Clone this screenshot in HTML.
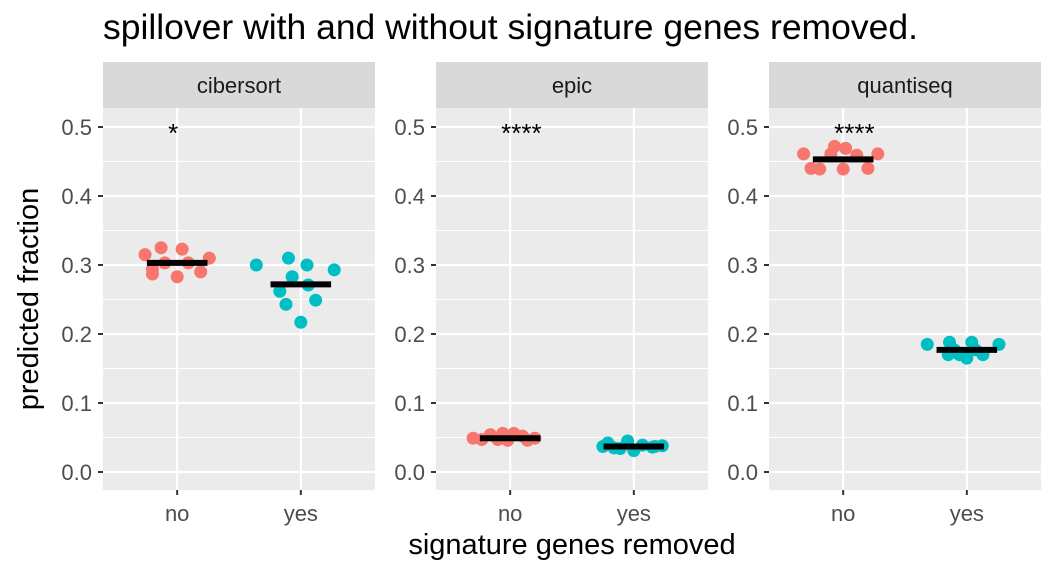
<!DOCTYPE html>
<html><head><meta charset="utf-8"><style>
body{margin:0;background:#fff}
svg{font-family:"Liberation Sans",sans-serif}
</style></head><body>
<svg id="c" width="1056" height="576"></svg>
<script>
const panels=["cibersort","epic","quantiseq"];
const categories=["no","yes"];
const yTicks=[0,0.1,0.2,0.3,0.4,0.5];
const sigLabels=["*","****","****"];
// jitter offsets (category units) and values
const cibNoX=[-0.26,-0.13,0.04,0.26,-0.1,0.09,-0.2,-0.2,0,0.19];
const cibNoY=[0.315,0.325,0.323,0.31,0.303,0.303,0.294,0.287,0.283,0.29];
const cibYesX=[-0.36,-0.1,0.05,0.27,-0.07,-0.17,0.06,-0.12,0.12,0];
const cibYesY=[0.3,0.31,0.3,0.293,0.283,0.262,0.271,0.243,0.249,0.217];
const epiNoX=[-0.3,-0.16,-0.06,0.03,0.1,0.2,-0.02,-0.1,0.14,-0.23];
const epiNoY=[0.049,0.054,0.056,0.056,0.052,0.049,0.046,0.047,0.046,0.047];
const epiYesX=[-0.25,-0.21,-0.05,0.07,0.23,-0.11,0,0.15,-0.16,0.17];
const epiYesY=[0.037,0.042,0.045,0.039,0.038,0.034,0.031,0.036,0.035,0.037];
const quaNoX=[-0.32,-0.07,0.02,0.11,-0.1,0.28,-0.26,-0.19,0,0.2];
const quaNoY=[0.461,0.472,0.469,0.459,0.461,0.461,0.44,0.439,0.439,0.44];
const quaYesX=[-0.32,-0.14,0.04,0.26,-0.1,-0.06,-0.15,0,0.13,0.07];
const quaYesY=[0.185,0.188,0.188,0.185,0.177,0.17,0.17,0.165,0.17,0.177];
const meansNo=[0.303,0.049,0.453];
const meansYes=[0.272,0.037,0.177];
const data=[[[cibNoX,cibNoY],[cibYesX,cibYesY]],[[epiNoX,epiNoY],[epiYesX,epiYesY]],[[quaNoX,quaNoY],[quaYesX,quaYesY]]];
const means=[meansNo,meansYes];
const colors=["#F8766D","#00BFC4"];
const NS="http://www.w3.org/2000/svg";
const svg=document.getElementById('c');
function el(t,a,p){const e=document.createElementNS(NS,t);for(const k in a)e.setAttribute(k,a[k]);(p||svg).appendChild(e);return e;}
const plotTop=108,plotBot=490,panelW=272,lefts=[103,436,769];
const yS=v=>472-v*690;
function xS(i,c){return lefts[i]+(c+1-0.4)/2.2*panelW;}
let t=el('text',{x:103,y:39,'font-size':35.5,fill:'#000'});t.textContent="spillover with and without signature genes removed.";


panels.forEach((p,i)=>{
  const L=lefts[i];
  const g=el('g',{});
  
  
  el('rect',{x:L,y:plotTop,width:panelW,height:plotBot-plotTop,fill:'#EBEBEB'},g);
  yTicks.forEach((v,k)=>{
    if(k<yTicks.length-1) el('line',{x1:L,x2:L+panelW,y1:yS(v+0.05),y2:yS(v+0.05),stroke:'#fff','stroke-width':1.1},g);
    el('line',{x1:L,x2:L+panelW,y1:yS(v),y2:yS(v),stroke:'#fff','stroke-width':2.2},g);
    el('line',{x1:L-5,x2:L,y1:yS(v),y2:yS(v),stroke:'#333','stroke-width':2},g);
    const tl=el('text',{x:L-11,y:yS(v)+8,'font-size':22,fill:'#4D4D4D','text-anchor':'end'},g);tl.textContent=v.toFixed(1);
    
    
  });
  categories.forEach((c,ci)=>{
    const cx=xS(i,ci);
    el('line',{x1:cx,x2:cx,y1:plotTop,y2:plotBot,stroke:'#fff','stroke-width':2.2},g);
    el('line',{x1:cx,x2:cx,y1:plotBot,y2:plotBot+5,stroke:'#333','stroke-width':2},g);
    const xl=el('text',{x:cx,y:521,'font-size':22,fill:'#4D4D4D','text-anchor':'middle'},g);xl.textContent=c;
    
    
  });
  const s=el('rect',{x:L,y:62,width:panelW,height:46,fill:'#D9D9D9'},g);
  
  
  const st=el('text',{x:L+panelW/2,y:93,'font-size':22,fill:'#1A1A1A','text-anchor':'middle'},g);st.textContent=p;
  
  
  data[i].forEach((d,ci)=>{
    d[0].forEach((jx,k)=>{
      const pt=el('circle',{cx:xS(i,ci+jx),cy:yS(d[1][k]),r:6.5,fill:colors[ci]},g);
      
      
    });
  });
  categories.forEach((c,ci)=>{
    const m=el('line',{x1:xS(i,ci-0.245),x2:xS(i,ci+0.245),y1:yS(means[ci][i]),y2:yS(means[ci][i]),stroke:'#000','stroke-width':6},g);
    
    
  });
  const sg=el('text',{x:xS(i,0)-9,y:yS(0.5)+15,'font-size':26,fill:'#000'},g);sg.textContent=sigLabels[i];
  
  
});
const xt=el('text',{x:572,y:554,'font-size':29,fill:'#000','text-anchor':'middle'});xt.textContent="signature genes removed";


const yt=el('text',{x:0,y:0,'font-size':29,fill:'#000','text-anchor':'middle',transform:'translate(38,299) rotate(-90)'});yt.textContent="predicted fraction";


</script>
</body></html>
